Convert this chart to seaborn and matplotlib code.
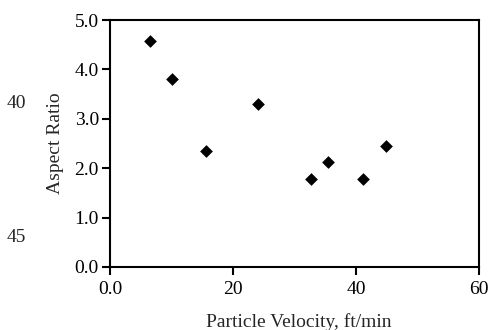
import numpy as np
import pandas as pd
import seaborn as sns
import matplotlib
matplotlib.use('Agg')
import matplotlib.pyplot as plt

# values
velocity = [6.5, 10.1, 15.6, 24.0, 32.7, 35.4, 41.2, 44.8]
aspect_ratio = [4.57, 3.81, 2.35, 3.31, 1.78, 2.13, 1.78, 2.46]
x_ticks = [0, 20, 40, 60]
x_tick_labels = ['0.0', '20', '40', '60']
y_ticks = [0, 1, 2, 3, 4, 5]
y_tick_labels = ['0.0', '1.0', '2.0', '3.0', '4.0', '5.0']
line_numbers = ['40', '45']

sns.set_style('white')
plt.rcParams['font.family'] = ['Liberation Serif', 'DejaVu Serif']

df = pd.DataFrame({'Particle Velocity, ft/min': velocity, 'Aspect Ratio': aspect_ratio})

fig = plt.figure(figsize=(4.89, 3.30), dpi=100)
ax = fig.add_axes([0.225, 0.191, 0.7546, 0.748])

sns.scatterplot(data=df, x='Particle Velocity, ft/min', y='Aspect Ratio', ax=ax,
                marker='D', s=42, color='black', edgecolor='black', linewidth=0)

ax.set_xlim(0, 60)
ax.set_ylim(0, 5)
ax.set_xticks(x_ticks)
ax.set_xticklabels(x_tick_labels)
ax.set_yticks(y_ticks)
ax.set_yticklabels(y_tick_labels)
ax.tick_params(axis='both', direction='out', length=6, width=1.5, color='black',
               labelsize=14, labelcolor='black', pad=2)
ax.tick_params(axis='x', pad=4)
ax.tick_params(bottom=True, left=True)
for sp in ax.spines.values():
    sp.set_visible(True)
    sp.set_color('black')
    sp.set_linewidth(1.5)

ax.set_xlabel('Particle Velocity, ft/min', fontsize=14)
ax.xaxis.set_label_coords(0.512, -46 / 247, transform=ax.transAxes)
ax.set_ylabel('Aspect Ratio', fontsize=14)
ax.yaxis.set_label_coords(-46 / 369, 0.5, transform=ax.transAxes)

fig.text(7 / 489, 1 - 104 / 330, line_numbers[0], fontsize=14, ha='left', va='center')
fig.text(7 / 489, 1 - 238 / 330, line_numbers[1], fontsize=14, ha='left', va='center')

fig.savefig('out.png', dpi=100)
